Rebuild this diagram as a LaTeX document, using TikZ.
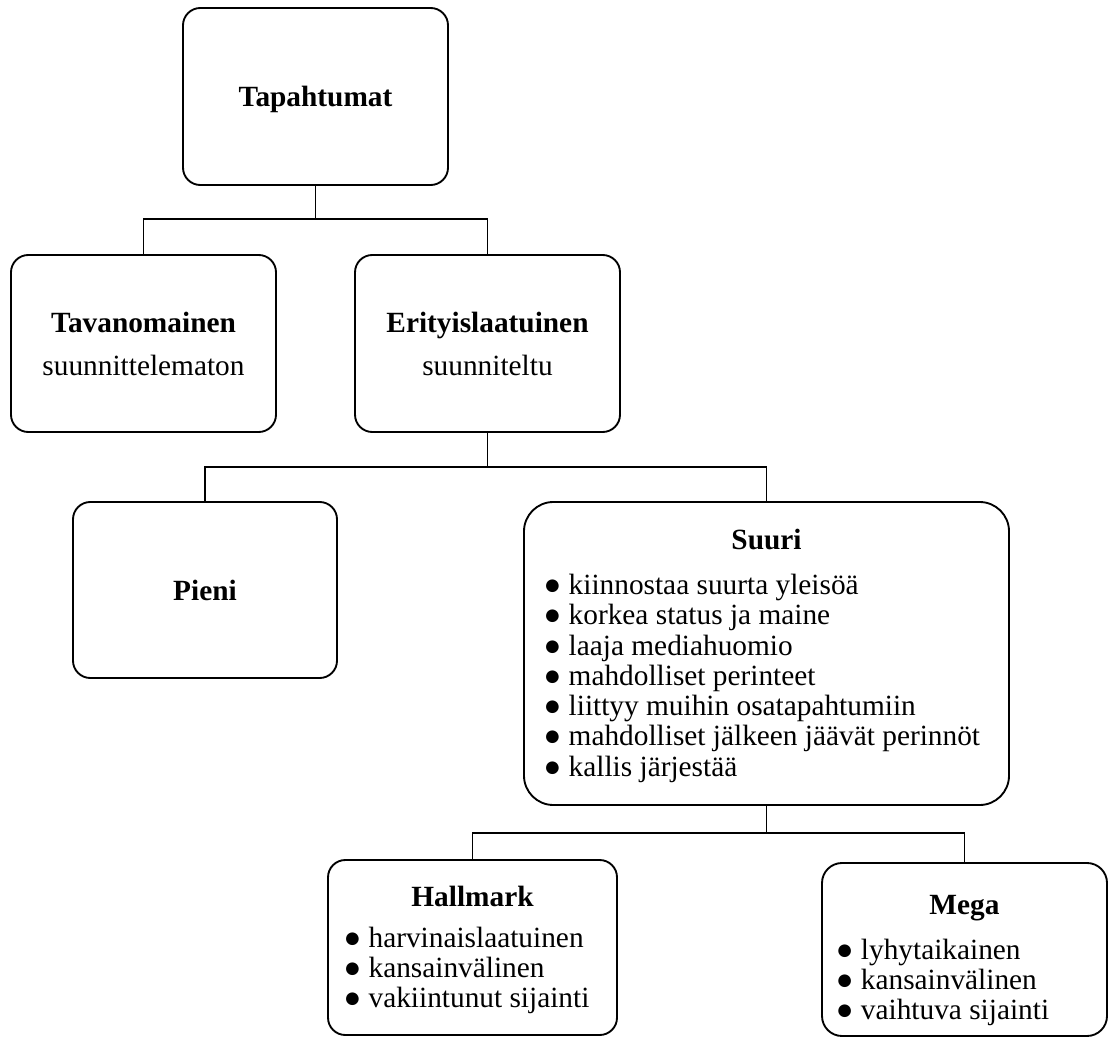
\documentclass[tikz,border=0pt]{standalone}
\usepackage{fontspec}
\setmainfont{Liberation Serif}
\newcommand\bul{●}
\begin{document}
\begin{tikzpicture}[x=0.75pt,y=-0.75pt,
  box/.style={draw, line width=1.4pt, rounded corners=13pt, inner sep=0pt, align=center,
    font=\fontsize{22}{22.7}\selectfont},
  conn/.style={line width=1.4pt}]
\useasboundingbox (0,0) rectangle (1109,1037);
% boxes
\node[box, minimum width=198.75pt, minimum height=132.75pt] (top) at (315.5,96.5) {\rule{0pt}{19.5pt}\textbf{Tapahtumat}};
\node[box, minimum width=198.75pt, minimum height=132.75pt] (tav) at (143.5,343.5) {\textbf{Tavanomainen}\\[9.5pt]suunnittelematon};
\node[box, minimum width=198.75pt, minimum height=132.75pt] (eri) at (487.5,343.5) {\textbf{Erityislaatuinen}\\[9.5pt]suunniteltu};
\node[box, minimum width=198pt, minimum height=132pt] (pieni) at (205,590) {\textbf{Pieni}};
\node[box, rounded corners=22pt, minimum width=363.75pt, minimum height=227.25pt] (suuri) at (766.5,653.5)
  {\rule{0pt}{21pt}\textbf{Suuri}\\[11pt]\hspace*{-7pt}\begin{tabular}[t]{@{}l@{}}
  \bul{} kiinnostaa suurta yleisöä\\
  \bul{} korkea status ja maine\\
  \bul{} laaja mediahuomio\\
  \bul{} mahdolliset perinteet\\
  \bul{} liittyy muihin osatapahtumiin\\
  \bul{} mahdolliset jälkeen jäävät perinnöt\\
  \bul{} kallis järjestää
  \end{tabular}};
\node[box, minimum width=216.75pt, minimum height=131.25pt] (hall) at (472.5,947.5)
  {\rule{0pt}{21pt}\textbf{Hallmark}\\[8pt]\hspace*{-9pt}\begin{tabular}[t]{@{}l@{}}
  \bul{} harvinaislaatuinen\\
  \bul{} kansainvälinen\\
  \bul{} vakiintunut sijainti
  \end{tabular}};
\node[box, rounded corners=15pt, minimum width=213.75pt, minimum height=129.75pt] (mega) at (964.5,949.5)
  {\rule{0pt}{33pt}\textbf{Mega}\\[11pt]\hspace*{-33pt}\begin{tabular}[t]{@{}l@{}}
  \bul{} lyhytaikainen\\
  \bul{} kansainvälinen\\
  \bul{} vaihtuva sijainti
  \end{tabular}};
% connector junctions
\coordinate (j1) at (315.5,219);
\coordinate (j2) at (487.5,467);
\coordinate (j3) at (766.5,833);
\draw[conn] (top.south) -- (j1) -| (tav.north);
\draw[conn] (j1) -| (eri.north);
\draw[conn] (eri.south) -- (j2) -| (pieni.north);
\draw[conn] (j2) -| (suuri.north);
\draw[conn] (suuri.south) -- (j3) -| (hall.north);
\draw[conn] (j3) -| (mega.north);
\end{tikzpicture}
\end{document}
